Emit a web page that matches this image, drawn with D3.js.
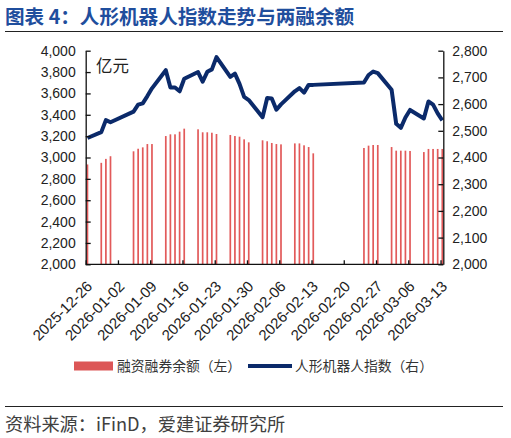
<!DOCTYPE html>
<html>
<head>
<meta charset="utf-8">
<script src="https://cdn.jsdelivr.net/npm/d3@7"></script>
<style>
  body { margin: 0; background: #fff; }
  svg { display: block; font-family: "Liberation Sans", "Noto Sans CJK SC", sans-serif; }
  .cjk { font-family: "Noto Sans CJK SC", sans-serif; }
</style>
</head>
<body>
<div id="chart"></div>
<script>
// trading days shown on the chart
const dates = [
  '2025-12-26', '2025-12-29', '2025-12-30', '2025-12-31',
  '2026-01-05', '2026-01-06', '2026-01-07', '2026-01-08', '2026-01-09',
  '2026-01-12', '2026-01-13', '2026-01-14', '2026-01-15', '2026-01-16',
  '2026-01-19', '2026-01-20', '2026-01-21', '2026-01-22', '2026-01-23',
  '2026-01-26', '2026-01-27', '2026-01-28', '2026-01-29', '2026-01-30',
  '2026-02-02', '2026-02-03', '2026-02-04', '2026-02-05', '2026-02-06',
  '2026-02-09', '2026-02-10', '2026-02-11', '2026-02-12', '2026-02-13',
  '2026-02-24', '2026-02-25', '2026-02-26', '2026-02-27',
  '2026-03-02', '2026-03-03', '2026-03-04', '2026-03-05', '2026-03-06',
  '2026-03-09', '2026-03-10', '2026-03-11', '2026-03-12', '2026-03-13'
];

// 融资融券余额, 亿元 (left axis)
const marginBalance = [
  2935, 2950, 2987, 3012,
  3058, 3082, 3095, 3126, 3126,
  3201, 3217, 3217, 3242, 3270,
  3264, 3236, 3236, 3232, 3220,
  3211, 3201, 3195, 3170, 3142,
  3161, 3152, 3136, 3126, 3123,
  3132, 3132, 3114, 3098, 3039,
  3089, 3111, 3117, 3117,
  3098, 3064, 3064, 3064, 3061,
  3051, 3080, 3080, 3080, 3080
];

// 人形机器人指数 (right axis)
const robotIndex = [
  2473, 2495, 2540, 2532,
  2572, 2598, 2603, 2630, 2659,
  2727, 2662, 2662, 2648, 2695,
  2720, 2684, 2721, 2730, 2776,
  2702, 2714, 2676, 2627, 2615,
  2551, 2623, 2621, 2579, 2599,
  2648, 2660, 2643, 2672, 2672,
  2681, 2709, 2722, 2716,
  2654, 2526, 2511, 2550, 2578,
  2546, 2610, 2598, 2565, 2539
];

const xTickDates = [
  '2025-12-26', '2026-01-02', '2026-01-09', '2026-01-16', '2026-01-23', '2026-01-30',
  '2026-02-06', '2026-02-13', '2026-02-20', '2026-02-27', '2026-03-06', '2026-03-13'
];
const leftTicks = [2000, 2200, 2400, 2600, 2800, 3000, 3200, 3400, 3600, 3800, 4000];
const rightTicks = [2000, 2100, 2200, 2300, 2400, 2500, 2600, 2700, 2800];

const W = 511, H = 438;
const plot = { left: 85.7, right: 443.3, top: 50.7, bottom: 264.3 };
const DAY = 864e5;
const parse = d3.utcParse('%Y-%m-%d');
const fmt = d3.format(',');

const svg = d3.select('#chart').append('svg')
  .attr('width', W).attr('height', H);

// Title + rule
svg.append('text').attr('class', 'cjk')
  .attr('x', 5).attr('y', 23.5)
  .style('font-size', '19.6px').style('font-weight', 'bold').style('fill', '#1f4e9d')
  .text('图表 4：人形机器人指数走势与两融余额');
svg.append('line')
  .attr('x1', 5).attr('x2', 503).attr('y1', 31.5).attr('y2', 31.5)
  .attr('stroke', '#222').attr('stroke-width', 1);

// Scales
const x = d3.scaleUtc()
  .domain([parse(dates[0]), new Date(+parse(dates[dates.length - 1]) + 0.6 * DAY)])
  .range([plot.left, plot.right]);
const yL = d3.scaleLinear().domain([2000, 4000]).range([plot.bottom, plot.top]);
const yR = d3.scaleLinear().domain([2000, 2800]).range([plot.bottom, plot.top]);
const shift = (x(new Date(+parse(dates[0]) + DAY)) - x(parse(dates[0]))) * 0.38;
const px = d => x(parse(d)) + shift;

// Bars
const barW = 1.7;
svg.append('g').selectAll('rect')
  .data(dates)
  .join('rect')
  .attr('x', d => px(d) - barW / 2)
  .attr('y', (d, i) => yL(marginBalance[i]))
  .attr('width', barW)
  .attr('height', (d, i) => yL(2000) - yL(marginBalance[i]))
  .attr('fill', '#e25a5a');

// Line
const line = d3.line()
  .x(d => px(d))
  .y((d, i) => yR(robotIndex[i]));
svg.append('path')
  .datum(dates)
  .attr('d', line)
  .attr('fill', 'none')
  .attr('stroke', '#0b2a6a')
  .attr('stroke-width', 4)
  .attr('stroke-linejoin', 'round');

// Axes
const leftAxis = svg.append('g')
  .attr('transform', `translate(${plot.left},0)`)
  .call(d3.axisLeft(yL).tickValues(leftTicks).tickFormat(fmt).tickSizeInner(-5).tickSizeOuter(0).tickPadding(10));
const rightAxis = svg.append('g')
  .attr('transform', `translate(${plot.right},0)`)
  .call(d3.axisRight(yR).tickValues(rightTicks).tickFormat(fmt).tickSizeInner(-5).tickSizeOuter(0).tickPadding(9));
const bottomAxis = svg.append('g')
  .attr('transform', `translate(0,${plot.bottom})`)
  .call(d3.axisBottom(x).tickValues(xTickDates.map(parse)).tickFormat(d3.utcFormat('%Y-%m-%d'))
    .tickSizeInner(-4).tickSizeOuter(0));

[leftAxis, rightAxis, bottomAxis].forEach(a => {
  a.select('.domain').attr('stroke', '#111').attr('stroke-width', 1.3);
  a.selectAll('.tick line').attr('stroke', '#111').attr('stroke-width', 1.3);
  a.selectAll('text').style('font-size', '14px').style('fill', '#222');
});
// the bottom axis spans the whole plot width
bottomAxis.select('.domain').attr('d', `M${plot.left},0H${plot.right}`);

bottomAxis.selectAll('text')
  .attr('y', 0).attr('dy', 0)
  .attr('transform', 'translate(7,23) rotate(-45)')
  .style('text-anchor', 'end')
  .style('font-size', '15px');

// Unit label
svg.append('text').attr('class', 'cjk')
  .attr('x', 96).attr('y', 72)
  .style('font-size', '16.5px').style('fill', '#222')
  .text('亿元');

// Legend
const legend = svg.append('g').attr('transform', 'translate(0,366)');
legend.append('rect').attr('x', 74).attr('y', -4.5).attr('width', 39).attr('height', 9).attr('fill', '#dc5656');
legend.append('text').attr('class', 'cjk').attr('x', 117).attr('y', 5)
  .style('font-size', '13.8px').style('fill', '#333').text('融资融券余额（左）');
legend.append('line').attr('x1', 248).attr('x2', 292).attr('y1', 0).attr('y2', 0)
  .attr('stroke', '#0b2a6a').attr('stroke-width', 4);
legend.append('text').attr('class', 'cjk').attr('x', 295).attr('y', 5)
  .style('font-size', '13.8px').style('fill', '#333').text('人形机器人指数（右）');

// Source
svg.append('line')
  .attr('x1', 5).attr('x2', 503).attr('y1', 406.5).attr('y2', 406.5)
  .attr('stroke', '#222').attr('stroke-width', 1);
svg.append('text').attr('class', 'cjk')
  .attr('x', 5).attr('y', 430.5)
  .style('font-size', '18.2px').style('fill', '#404040')
  .text('资料来源：iFinD，爱建证券研究所');
</script>
</body>
</html>
